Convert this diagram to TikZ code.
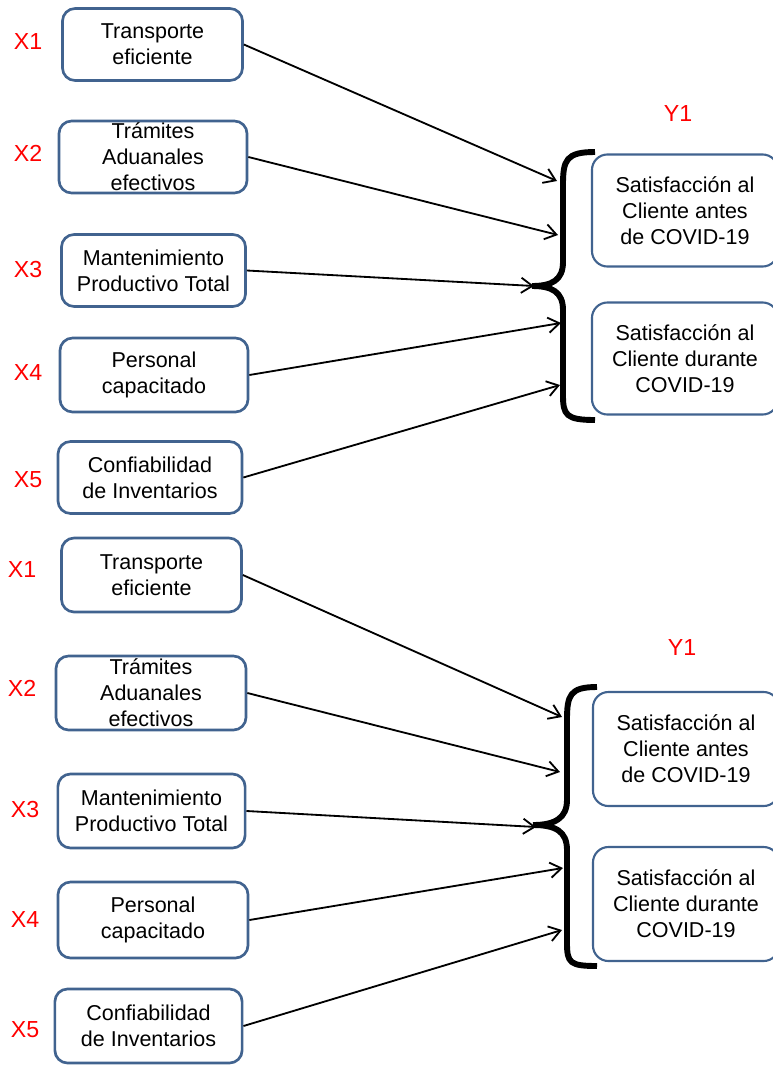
\documentclass[tikz,border=0pt]{standalone}
\usepackage{fontspec}
\setmainfont{Liberation Sans}
\usepackage{tikz}
\definecolor{boxBlue}{HTML}{41638F}
\definecolor{tagRed}{HTML}{FF0000}
\usetikzlibrary{arrows.meta}

\begin{document}
\begin{tikzpicture}[
  x=0.025cm, y=-0.025cm,
  font=\fontsize{15.3}{18.5}\selectfont,
  varbox/.style={draw=boxBlue, line width=1.9pt, rounded corners=9pt, minimum height=1.8cm, inner sep=0pt, align=center, fill=white, text=black},
  outbox/.style={draw=boxBlue, line width=1.5pt, rounded corners=11pt, minimum width=4.65cm, minimum height=2.8cm, inner sep=0pt, align=center, fill=white, text=black},
  tag/.style={text=tagRed, font=\fontsize{16.5}{19}\selectfont},
  flow/.style={-{Straight Barb[length=2.8mm, width=3.8mm]}, line width=1.3pt, black},
  bracket/.style={line width=4.2pt, black, line cap=butt}
]
\useasboundingbox (0,0) rectangle (772,1065);

% Upper model: independent variables
\node[varbox, minimum width=4.5cm] (x1a) at (152.5,44.5) {Transporte\\eficiente};
\node[varbox, minimum width=4.7cm] (x2a) at (153,157) {Trámites\\Aduanales\\efectivos};
\node[varbox, minimum width=4.6cm] (x3a) at (153.5,270.5) {Mantenimiento\\Productivo Total};
\node[varbox, minimum width=4.7cm, minimum height=1.85cm] (x4a) at (154,375) {Personal\\capacitado};
\node[varbox, minimum width=4.6cm] (x5a) at (150,477.5) {Confiabilidad\\de Inventarios};

\node[tag] (t1a) at (28,42) {X1};
\node[tag] (t2a) at (28,153) {X2};
\node[tag] (t3a) at (28,270) {X3};
\node[tag] (t4a) at (28,373) {X4};
\node[tag] (t5a) at (28,480) {X5};

% Upper model: dependent variable
\node[tag] (ya) at (678,114) {Y1};
\node[outbox] (y1a) at (685,210.5) {Satisfacción al\\Cliente antes\\de COVID-19};
\node[outbox] (y2a) at (685,358.5) {Satisfacción al\\Cliente durante\\COVID-19};

\draw[bracket] (595,152) .. controls (566,152) and (563,160) .. (563,185) -- (563,262)
  .. controls (563,280) and (552,286) .. (532,286)
  .. controls (552,286) and (563,292) .. (563,310) -- (563,395)
  .. controls (563,415) and (566,420) .. (595,420);

\coordinate (e1a) at (557,181);
\coordinate (e2a) at (558,235);
\coordinate (e3a) at (534,286);
\coordinate (e4a) at (561,323);
\coordinate (e5a) at (560,385);

\draw[flow] (x1a.east) -- (e1a);
\draw[flow] (x2a.east) -- (e2a);
\draw[flow] (x3a.east) -- (e3a);
\draw[flow] (x4a.east) -- (e4a);
\draw[flow] (x5a.east) -- (e5a);

% Lower model: independent variables
\node[varbox, minimum width=4.5cm, minimum height=1.85cm] (x1b) at (151.5,575) {Transporte\\eficiente};
\node[varbox, minimum width=4.75cm, minimum height=1.85cm] (x2b) at (151,693) {Trámites\\Aduanales\\efectivos};
\node[varbox, minimum width=4.68cm, minimum height=1.85cm] (x3b) at (151.5,811) {Mantenimiento\\Productivo Total};
\node[varbox, minimum width=4.75cm, minimum height=1.9cm] (x4b) at (153,920) {Personal\\capacitado};
\node[varbox, minimum width=4.68cm, minimum height=1.85cm] (x5b) at (148.5,1026) {Confiabilidad\\de Inventarios};

\node[tag] (t1b) at (22,570) {X1};
\node[tag] (t2b) at (22,688) {X2};
\node[tag] (t3b) at (25,810) {X3};
\node[tag] (t4b) at (25,920) {X4};
\node[tag] (t5b) at (25,1030) {X5};

% Lower model: dependent variable
\node[tag] (yb) at (682,648) {Y1};
\node[outbox, minimum height=2.85cm] (y1b) at (686,749) {Satisfacción al\\Cliente antes\\de COVID-19};
\node[outbox, minimum height=2.85cm] (y2b) at (686,904) {Satisfacción al\\Cliente durante\\COVID-19};

\draw[bracket] (597,687) .. controls (570,687) and (567,695) .. (567,720) -- (567,800)
  .. controls (567,818) and (555,825) .. (533,825)
  .. controls (555,825) and (567,831) .. (567,850) -- (567,943)
  .. controls (567,963) and (570,966) .. (597,966);

\coordinate (e1b) at (562,717);
\coordinate (e2b) at (560,772);
\coordinate (e3b) at (536,827);
\coordinate (e4b) at (563,868);
\coordinate (e5b) at (562,930);

\draw[flow] (x1b.east) -- (e1b);
\draw[flow] (x2b.east) -- (e2b);
\draw[flow] (x3b.east) -- (e3b);
\draw[flow] (x4b.east) -- (e4b);
\draw[flow] (x5b.east) -- (e5b);

\end{tikzpicture}
\end{document}
